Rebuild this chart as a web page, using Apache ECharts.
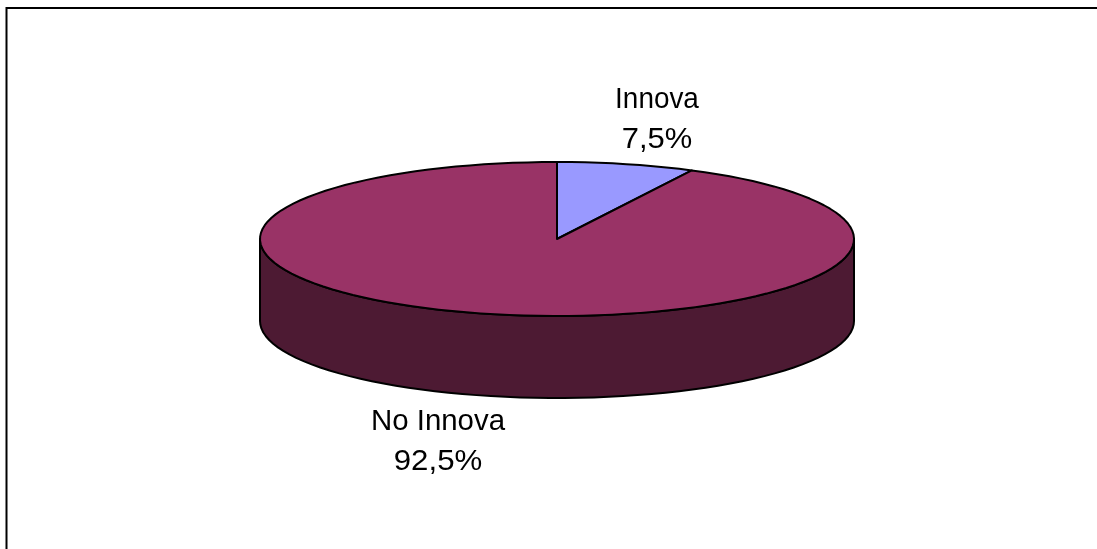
<!DOCTYPE html>
<html><head><meta charset="utf-8">
<style>html,body{margin:0;padding:0;background:#fff}#c{width:1097px;height:549px}</style>
<script src="https://cdn.jsdelivr.net/npm/echarts@6/dist/echarts.min.js"></script>
</head><body><div id="c"></div>
<script>
var categories = ['Innova', 'No Innova'];
var values = [7.5, 92.5];
var valueLabels = ['7,5%', '92,5%'];
var topColors = ['#9999FF', '#993366'];
var sideColors = ['#4D4D80', '#4D1A33'];
var labelAnchors = [[657, 100], [438, 422]];
var categoryStretch = [0.93, 0.98];
var valueStretch = [1.03, 1.04];

var chart = echarts.init(document.getElementById('c'), null, {renderer: 'canvas'});
var total = values.reduce(function (a, b) { return a + b; }, 0);
var CX = 557, CY = 239, RX = 297, RY = 77, DEPTH = 82, LINE = 40;
function pt(a, dy) { return [CX + RX * Math.sin(a), CY - RY * Math.cos(a) + (dy || 0)]; }
function arc(a0, a1, dy) {
  var n = Math.max(2, Math.ceil(Math.abs(a1 - a0) / 0.05)), out = [];
  for (var i = 0; i <= n; i++) out.push(pt(a0 + (a1 - a0) * i / n, dy));
  return out;
}
var stroke = {stroke: '#000', lineWidth: 2, lineJoin: 'round'};
function label(text, x, y, sx) {
  return {type: 'text', x: x, y: y, scaleX: sx, z2: 10,
    style: {text: text, fill: '#000', align: 'center', verticalAlign: 'middle', font: '30px "Liberation Sans"'}};
}
function renderItem(params, api) {
  var i = params.dataIndex, start = 0;
  for (var k = 0; k < i; k++) start += values[k];
  var a0 = start / total * 2 * Math.PI, a1 = (start + api.value(1)) / total * 2 * Math.PI;
  var children = [];
  var s0 = Math.max(a0, Math.PI / 2), s1 = Math.min(a1, Math.PI * 1.5);
  if (s1 > s0) {
    children.push({type: 'polygon', shape: {points: arc(s0, s1, 0).concat(arc(s1, s0, DEPTH))},
      style: Object.assign({fill: sideColors[i]}, stroke)});
  }
  children.push({type: 'polygon', shape: {points: [[CX, CY]].concat(arc(a0, a1, 0))},
    style: Object.assign({fill: topColors[i]}, stroke)});
  children.push(label(categories[i], labelAnchors[i][0], labelAnchors[i][1], categoryStretch[i]));
  children.push(label(valueLabels[i], labelAnchors[i][0], labelAnchors[i][1] + LINE, valueStretch[i]));
  return {type: 'group', children: children};
}
chart.setOption({
  animation: false,
  backgroundColor: '#fff',
  graphic: [
    {type: 'polyline', shape: {points: [[6.5, 549], [6.5, 8], [1097, 8]]}, style: {stroke: '#000', lineWidth: 2, fill: null}, silent: true}
  ],
  series: [{
    type: 'custom',
    coordinateSystem: 'none',
    renderItem: renderItem,
    data: categories.map(function (c, i) { return [c, values[i]]; }),
    encode: {value: 1},
    z: 1
  }]
});
</script></body></html>
